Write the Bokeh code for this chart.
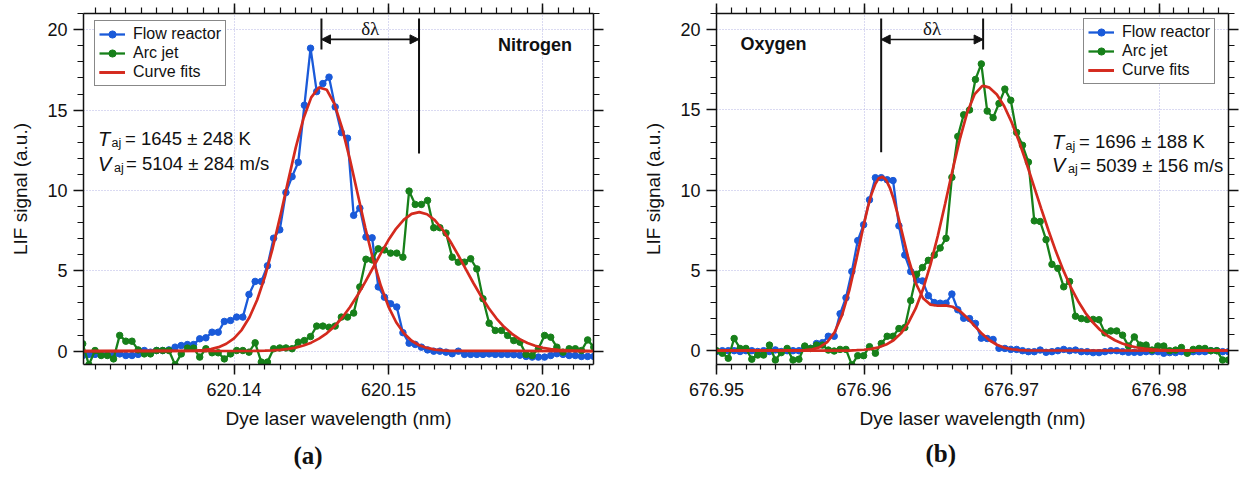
import numpy as np
from bokeh.plotting import figure
from bokeh.layouts import row
from bokeh.models import (Range1d, LinearAxis, SingleIntervalTicker, PrintfTickFormatter,
                          CustomJSTickFormatter, Label, Arrow, NormalHead, Title,
                          ColumnDataSource)
from bokeh.embed import file_html
from bokeh.resources import INLINE

SANS = "Liberation Sans"
SERIF = "Liberation Serif"
BLUE = "#1a5ad9"
GREEN = "#17801a"
RED = "#d42a1e"
INK = "#111111"
GRID = "#b4b4e4"

# ---------------- panel (a): nitrogen ----------------
n2_wl_first = 620.1302
n2_wl_last = 620.1633
n2_flow_reactor = [
    -0.27, -0.20, -0.20, -0.22, -0.20, -0.22, -0.17, -0.27, -0.27, -0.20,
    0.04, -0.06, 0.04, 0.04, 0.08, 0.25, 0.35, 0.41, 0.41, 0.77,
    0.83, 1.18, 1.18, 1.85, 1.91, 2.12, 2.12, 3.53, 4.34, 4.34,
    5.31, 7.03, 7.55, 9.87, 10.86, 11.75, 15.30, 18.85, 16.15, 16.65,
    17.05, 15.20, 13.60, 13.25, 8.45, 8.90, 7.10, 7.05, 4.00, 3.36,
    2.95, 2.75, 1.15, 0.50, 0.42, 0.25, 0.08, 0.00, 0.00, -0.06,
    -0.16, 0.00, -0.20, -0.20, -0.20, -0.20, -0.17, -0.20, -0.20, -0.20,
    -0.22, -0.25, -0.33, -0.37, -0.37, -0.37, -0.27, -0.16, -0.20, -0.27,
    -0.27, -0.33, -0.33, -0.33]
n2_arc_jet = [
    0.46, -0.85, 0.04, -0.27, -0.27, -0.48, 0.98, 0.62, 0.62, 0.08,
    -0.17, -0.17, 0.04, 0.04, 0.04, -0.85, -0.17, 0.19, 0.19, -0.37,
    0.15, -0.10, -0.10, -0.48, -0.17, 0.04, 0.04, -0.06, 0.52, -0.68,
    -0.68, 0.15, 0.20, 0.20, 0.15, 0.56, 0.66, 0.91, 1.56, 1.56,
    1.49, 1.56, 2.12, 2.12, 2.37, 4.00, 5.72, 5.68, 6.37, 6.30,
    6.10, 6.10, 5.85, 9.96, 9.13, 9.13, 9.38, 7.68, 7.68, 7.35,
    5.85, 5.54, 5.54, 5.75, 5.12, 3.26, 1.74, 1.29, 1.29, 0.98,
    0.66, 0.56, -0.20, -0.27, 0.15, 0.98, 0.87, 0.25, -0.06, 0.15,
    0.15, 0.04, 0.70, 0.25]
n2_fit_flow_wl = [
    620.1302, 620.1375, 620.1380, 620.1385, 620.1390, 620.1395, 620.1400,
    620.1405, 620.1410, 620.1415, 620.1420, 620.1425, 620.1430, 620.1435,
    620.1440, 620.1445, 620.1450, 620.1455, 620.1460, 620.1465, 620.1470,
    620.1475, 620.1480, 620.1485, 620.1490, 620.1495, 620.1500, 620.1505,
    620.1510, 620.1515, 620.1520, 620.1525, 620.1530, 620.1535, 620.1540,
    620.1633]
n2_fit_flow = [
    0.0, 0.03, 0.06, 0.13, 0.25, 0.46, 0.80,
    1.33, 2.11, 3.20, 4.64, 6.40, 8.43, 10.58,
    12.68, 14.49, 15.79, 16.41, 16.27, 15.39, 13.88,
    11.95, 9.81, 7.68, 5.73, 4.08, 2.77, 1.80,
    1.11, 0.65, 0.37, 0.20, 0.10, 0.05, 0.02,
    0.0]
n2_fit_arc_wl = [
    620.1302,
    620.1410, 620.1415, 620.1420, 620.1425, 620.1430, 620.1435, 620.1440, 620.1445, 620.1450, 620.1455,
    620.1460, 620.1465, 620.1470, 620.1475, 620.1480, 620.1485, 620.1490, 620.1495, 620.1500, 620.1505,
    620.1510, 620.1515, 620.1520, 620.1525, 620.1530, 620.1535, 620.1540, 620.1545, 620.1550, 620.1555,
    620.1560, 620.1565, 620.1570, 620.1575, 620.1580, 620.1585, 620.1590, 620.1595, 620.1600, 620.1605,
    620.1610, 620.1615, 620.1620, 620.1625, 620.1630,
    620.1633]
n2_fit_arc = [
    0.0,
    0.01, 0.02, 0.03, 0.05, 0.08, 0.14, 0.22, 0.35, 0.53, 0.78,
    1.11, 1.54, 2.08, 2.73, 3.48, 4.31, 5.19, 6.07, 6.91, 7.63,
    8.19, 8.54, 8.65, 8.52, 8.15, 7.57, 6.84, 6.01, 5.12, 4.24,
    3.42, 2.67, 2.03, 1.50, 1.08, 0.75, 0.51, 0.34, 0.21, 0.13,
    0.08, 0.05, 0.03, 0.02, 0.01,
    0.01]
n2_peak_wl = [620.14566, 620.15198]
n2_mark_top = [20.7, 20.7]
n2_mark_bottom = [18.77, 12.3]
n2_texts = ["Nitrogen", "= 1645 ± 248 K", "= 5104 ± 284 m/s"]

# ---------------- panel (b): oxygen ----------------
o_wl_first = 676.9500
o_wl_last = 676.9847
o_flow_reactor = [
    -0.05, 0.00, 0.00, 0.00, -0.05, 0.00, 0.00, -0.05, 0.00, -0.05,
    0.05, -0.05, 0.00, 0.00, 0.00, 0.20, 0.15, 0.45, 0.50, 0.90,
    0.90, 2.30, 3.30, 4.93, 6.86, 7.85, 9.40, 10.78, 10.78, 10.65,
    10.60, 7.78, 5.96, 4.93, 4.40, 4.35, 3.43, 3.00, 2.96, 2.96,
    3.53, 2.55, 2.02, 2.00, 1.70, 0.78, 0.76, 0.70, 0.15, 0.14,
    0.08, 0.08, 0.00, -0.06, -0.06, 0.04, -0.10, -0.06, 0.00, 0.08,
    0.00, 0.04, -0.06, -0.06, -0.12, -0.12, -0.06, 0.00, 0.00, -0.06,
    -0.10, -0.10, -0.10, -0.06, -0.06, -0.06, -0.16, -0.12, -0.12, -0.06,
    -0.12, -0.06, -0.06, -0.06, 0.00, 0.00, -0.06, -0.06]
o_arc_jet = [
    0.00, -0.16, -0.47, 0.76, 0.14, 0.14, -0.53, -0.27, -0.27, 0.35,
    -0.58, -0.12, 0.14, -0.58, -0.53, 0.29, 0.14, 0.35, 0.35, 0.04,
    -0.02, 0.08, 0.08, -0.88, -0.31, -0.31, 0.25, -0.16, 0.45, 0.90,
    0.90, 1.38, 1.44, 3.12, 4.76, 5.18, 5.63, 5.96, 6.40, 7.00,
    10.80, 13.35, 14.70, 15.00, 16.90, 17.87, 14.93, 14.52, 15.40, 16.30,
    15.60, 13.60, 12.80, 11.75, 8.09, 8.05, 6.92, 5.38, 5.13, 3.98,
    4.31, 2.15, 2.00, 1.95, 1.95, 1.93, 1.11, 1.23, 1.23, 0.97,
    0.29, 0.86, 0.35, 0.35, 0.04, 0.29, 0.29, 0.00, 0.04, 0.20,
    -0.16, 0.08, 0.14, 0.14, 0.00, 0.00, -0.58, -0.58]
o_fit_flow_wl = [
    676.9500,
    676.9560, 676.9565, 676.9570, 676.9575, 676.9580, 676.9585, 676.9590, 676.9595, 676.9600,
    676.96025, 676.9605, 676.96075, 676.9610, 676.96125, 676.9615, 676.96175, 676.9620, 676.96225, 676.9625,
    676.9630, 676.9635, 676.9640, 676.9645, 676.9650, 676.9655, 676.9660, 676.9665, 676.9670,
    676.9675, 676.9680, 676.9685, 676.9690, 676.9695, 676.9700, 676.9705, 676.9710,
    676.9847]
o_fit_flow = [
    0.0,
    0.03, 0.08, 0.22, 0.53, 1.14, 2.19, 3.76, 5.77, 7.92,
    8.91, 9.74, 10.36, 10.75, 10.84, 10.63, 10.15, 9.46, 8.60, 7.65,
    5.76, 4.22, 3.27, 2.87, 2.80, 2.82, 2.74, 2.47, 2.04,
    1.54, 1.05, 0.65, 0.37, 0.19, 0.09, 0.04, 0.02,
    0.0]
o_fit_arc_wl = [
    676.9500,
    676.9590, 676.9595, 676.9600, 676.9605, 676.9610, 676.9615, 676.9620, 676.9625, 676.9630, 676.9635,
    676.9640, 676.9645, 676.9650, 676.9655, 676.9660, 676.9665, 676.9670, 676.9675, 676.9680,
    676.9681,
    676.9685, 676.9690, 676.9695, 676.9700, 676.9705, 676.9710, 676.9715, 676.9720, 676.9725, 676.9730,
    676.9735, 676.9740, 676.9745, 676.9750, 676.9755, 676.9760, 676.9765, 676.9770, 676.9775, 676.9780,
    676.9785, 676.9790, 676.9795, 676.9800, 676.9805, 676.9810,
    676.9847]
o_fit_arc = [
    0.0,
    0.01, 0.03, 0.06, 0.11, 0.21, 0.38, 0.65, 1.08, 1.73, 2.63,
    3.84, 5.36, 7.16, 9.17, 11.25, 13.21, 14.86, 15.99, 16.49,
    16.50,
    16.39, 15.96, 15.23, 14.24, 13.05, 11.71, 10.29, 8.87, 7.49, 6.19,
    5.02, 3.98, 3.10, 2.36, 1.77, 1.29, 0.93, 0.65, 0.45, 0.30,
    0.20, 0.13, 0.08, 0.05, 0.03, 0.02,
    0.01]
o_peak_wl = [676.96116, 676.96807]
o_mark_top = [20.7, 20.7]
o_mark_bottom = [12.37, 18.77]
o_texts = ["Oxygen", "= 1696 ± 188 K", "= 5039 ± 156 m/s"]

x_tick_interval = 0.01
y_tick_interval = 5


def style_axis(a, maj, mnr):
    a.axis_line_color = INK
    a.axis_line_width = 1.5
    a.major_tick_line_color = INK
    a.minor_tick_line_color = INK
    a.major_tick_line_width = 1.5
    a.minor_tick_line_width = 1.2
    a.major_tick_in = 0
    a.minor_tick_in = 0
    a.major_tick_out = maj
    a.minor_tick_out = mnr


def make_panel(wl_first, wl_last, flow, arc, fit_flow_wl, fit_flow, fit_arc_wl, fit_arc,
               peak_wl, mark_top, mark_bottom, texts, tag,
               x_range, y_range, width, border_left, border_right, border_bottom,
               legend_loc, tag_offset, tag_standoff, species_pos, stats_pos, arrow_y, dl_y):
    wl = np.linspace(wl_first, wl_last, len(flow))
    p = figure(width=width, height=478, title=None,
               x_range=Range1d(*x_range), y_range=Range1d(*y_range),
               output_backend="svg", toolbar_location=None,
               min_border_left=border_left, min_border_right=border_right,
               min_border_top=13, min_border_bottom=border_bottom)
    p.outline_line_color = None
    p.background_fill_color = "white"
    p.border_fill_color = "white"

    xt = SingleIntervalTicker(interval=x_tick_interval, num_minor_ticks=10)
    yt = SingleIntervalTicker(interval=y_tick_interval, num_minor_ticks=5)

    for g, t in ((p.xgrid[0], xt), (p.ygrid[0], yt)):
        g.ticker = t
        g.grid_line_color = GRID
        g.grid_line_dash = "1 2"
        g.grid_line_width = 1

    xa = p.xaxis[0]
    ya = p.yaxis[0]
    xa.ticker = xt
    ya.ticker = yt
    xa.formatter = PrintfTickFormatter(format="%.2f")
    xa.axis_label = "Dye laser wavelength (nm)"
    ya.axis_label = "LIF signal (a.u.)"
    style_axis(xa, 10, 5)
    style_axis(ya, 10, 6)
    for a in (xa, ya):
        a.major_label_text_font = SANS
        a.major_label_text_font_size = "18px"
        a.major_label_text_color = INK
        a.axis_label_text_font = SANS
        a.axis_label_text_font_size = "19px"
        a.axis_label_text_font_style = "normal"
        a.axis_label_text_color = INK
    xa.major_label_standoff = 8
    ya.major_label_standoff = 6
    xa.axis_label_standoff = 9
    ya.axis_label_standoff = 13

    blank = CustomJSTickFormatter(code="return ''")
    top = LinearAxis(ticker=xt, formatter=blank)
    right = LinearAxis(ticker=yt, formatter=blank)
    for a in (top, right):
        style_axis(a, 10, 6)
        a.major_label_text_font_size = "0px"
        a.major_label_standoff = 0
        a.axis_label_standoff = 0
    p.add_layout(top, "above")
    p.add_layout(right, "right")

    src = ColumnDataSource(dict(wl=wl, flow=flow, arc=arc))
    p.line("wl", "flow", source=src, color=BLUE, line_width=2.3, legend_label="Flow reactor")
    p.scatter("wl", "flow", source=src, color=BLUE, size=6.5, legend_label="Flow reactor")
    p.line("wl", "arc", source=src, color=GREEN, line_width=2.3, legend_label="Arc jet")
    p.scatter("wl", "arc", source=src, color=GREEN, size=6.5, legend_label="Arc jet")
    p.line(fit_flow_wl, fit_flow, color=RED, line_width=2.7, legend_label="Curve fits")
    p.line(fit_arc_wl, fit_arc, color=RED, line_width=2.7, legend_label="Curve fits")

    # peak markers and delta-lambda arrow
    p.segment(x0=peak_wl, y0=mark_top, x1=peak_wl, y1=mark_bottom, color=INK, line_width=2)
    head = dict(size=9, fill_color=INK, line_color=INK, line_width=1)
    p.add_layout(Arrow(start=NormalHead(**head), end=NormalHead(**head),
                       x_start=peak_wl[0], y_start=arrow_y, x_end=peak_wl[1], y_end=arrow_y,
                       line_color=INK, line_width=1.6))
    p.add_layout(Label(x=(peak_wl[0] + peak_wl[1]) / 2, y=dl_y, text="δλ",
                       text_align="center", text_baseline="middle",
                       text_font=SERIF, text_font_size="19px", text_color=INK))

    p.add_layout(Label(x=species_pos[0], y=species_pos[1], text=texts[0],
                       text_baseline="middle", text_font=SANS, text_font_size="18px",
                       text_font_style="bold", text_color=INK))

    sx, sy_t, sy_v = stats_pos
    for letter, yv, xo_sub, xo_txt, txt in (("T", sy_t, 13.5, 27, texts[1]),
                                           ("V", sy_v, 16, 28, texts[2])):
        p.add_layout(Label(x=sx, y=yv, text=letter, text_baseline="alphabetic",
                           text_font=SANS, text_font_size="20px", text_font_style="italic",
                           text_color=INK))
        p.add_layout(Label(x=sx, y=yv, x_offset=xo_sub, y_offset=-4, text="aj",
                           text_baseline="alphabetic", text_font=SANS,
                           text_font_size="12.5px", text_color=INK))
        p.add_layout(Label(x=sx, y=yv, x_offset=xo_txt, text=txt, text_baseline="alphabetic",
                           text_font=SANS, text_font_size="18.5px", text_color=INK))

    lg = p.legend[0]
    lg.location = legend_loc
    lg.border_line_color = INK
    lg.border_line_width = 1.5
    lg.background_fill_color = "white"
    lg.background_fill_alpha = 1
    lg.label_text_font = SANS
    lg.label_text_font_size = "16px"
    lg.label_text_color = INK
    lg.glyph_width = 26
    lg.glyph_height = 18
    lg.label_height = 18
    lg.label_standoff = 8
    lg.spacing = 1
    lg.padding = 4
    lg.margin = 0

    p.add_layout(Title(text=tag, align="left", offset=tag_offset, text_font=SERIF,
                       text_font_size="25px", text_font_style="bold", text_color=INK,
                       standoff=tag_standoff), "below")
    return p


p1 = make_panel(n2_wl_first, n2_wl_last, n2_flow_reactor, n2_arc_jet,
                n2_fit_flow_wl, n2_fit_flow, n2_fit_arc_wl, n2_fit_arc,
                n2_peak_wl, n2_mark_top, n2_mark_bottom, n2_texts, "(a)",
                x_range=(620.13025, 620.16328), y_range=(-0.83, 21.01), width=620,
                border_left=83, border_right=27, border_bottom=114,
                legend_loc=(11, 278), tag_offset=210, tag_standoff=16,
                species_pos=(620.1571, 19.02), stats_pos=(620.13119, 13.22, 11.66),
                arrow_y=19.40, dl_y=20.06)

p2 = make_panel(o_wl_first, o_wl_last, o_flow_reactor, o_arc_jet,
                o_fit_flow_wl, o_fit_flow, o_fit_arc_wl, o_fit_arc,
                o_peak_wl, o_mark_top, o_mark_bottom, o_texts, "(b)",
                x_range=(676.9500, 676.9847), y_range=(-0.86, 21.01), width=619,
                border_left=96, border_right=11, border_bottom=110,
                legend_loc=(367, 280), tag_offset=209, tag_standoff=12,
                species_pos=(676.95163, 19.08), stats_pos=(676.97274, 13.02, 11.54),
                arrow_y=19.39, dl_y=20.1)

layout = row(p1, p2)
open("out.html", "w").write(file_html(layout, INLINE))
